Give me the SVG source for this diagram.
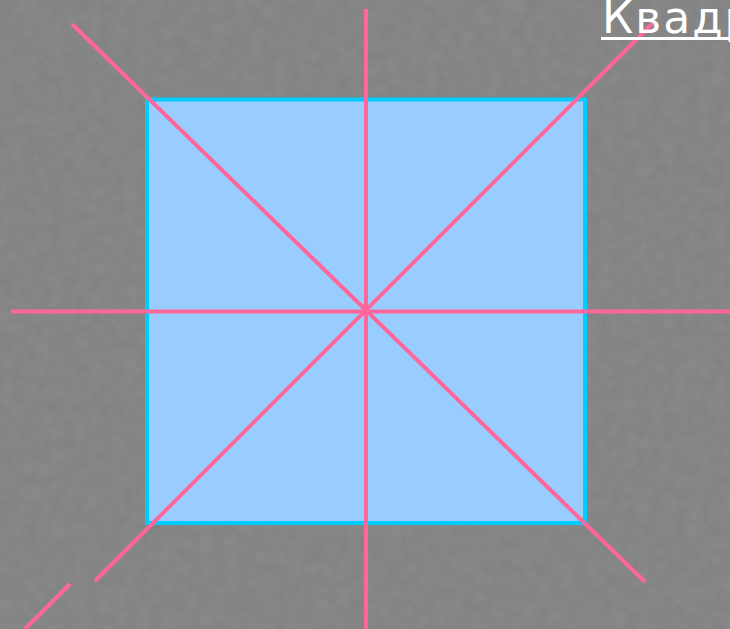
<svg xmlns="http://www.w3.org/2000/svg" width="730" height="629" viewBox="0 0 730 629">
  <style>
    .axis { stroke: #FF6699; stroke-width: 4; fill: none; }
    .title { font-family: "DejaVu Sans", Verdana, sans-serif; font-size: 44px; letter-spacing: 2px; fill: #FFFFFF; }
  </style>
  <defs>
    <filter id="grain" x="0" y="0" width="100%" height="100%">
      <feTurbulence type="fractalNoise" baseFrequency="0.08" numOctaves="3" seed="4" result="n"/>
      <feColorMatrix in="n" type="matrix" values="0 0 0 0 0.5  0 0 0 0 0.5  0 0 0 0 0.5  0 0 0 0.18 0"/>
    </filter>
  </defs>
  <rect id="background" x="0" y="0" width="730" height="629" fill="#808080"/>
  <rect x="0" y="0" width="730" height="629" filter="url(#grain)"/>
  <g id="square">
    <rect x="147" y="99.5" width="438" height="423.5" fill="#99CCFF" stroke="#00CCFF" stroke-width="4"/>
  </g>
  <g id="connectors">
    <line class="axis" x1="366" y1="9" x2="366" y2="629"/>
    <line class="axis" x1="11" y1="311.5" x2="730" y2="311.5"/>
    <line class="axis" x1="72" y1="24" x2="645" y2="582"/>
    <line class="axis" x1="653" y1="23" x2="95" y2="581"/>
    <line class="axis" x1="70" y1="584" x2="25" y2="629"/>
  </g>
  <g id="title">
    <text class="title" x="602" y="33">Квадрат</text>
    <line x1="601" y1="38.5" x2="730" y2="38.5" stroke="#FFFFFF" stroke-width="3"/>
  </g>
</svg>
